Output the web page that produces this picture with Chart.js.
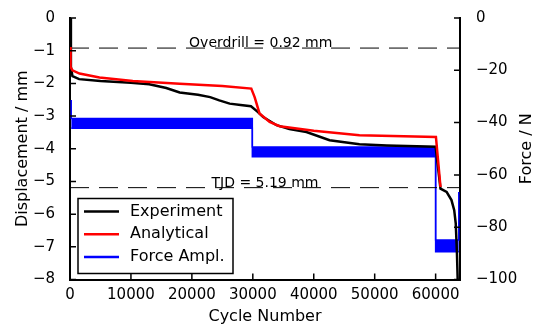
<!DOCTYPE html>
<html>
<head>
<meta charset="utf-8">
<script src="https://cdn.jsdelivr.net/npm/chart.js@4.4.1/dist/chart.umd.min.js"></script>
<style>
  body { margin: 0; background: #fff; }
  #wrap { width: 534px; height: 325px; }
</style>
</head>
<body>
<div id="wrap"><canvas id="mainChart" width="534" height="325"></canvas></div>
<script>
// values: cycle number vs displacement (mm)
const expCycles = [0, 150, 400, 1500, 5000, 10000, 13000, 15800, 18000, 21000, 23000, 24500, 26200, 28000, 29700, 30800, 31700, 33900, 36000, 38800, 42600, 47500, 52000, 60000, 60800, 61800, 62600, 63050, 63300, 63500, 63620];
const expDisp = [0, -1.5, -1.78, -1.87, -1.93, -1.98, -2.03, -2.14, -2.28, -2.35, -2.42, -2.52, -2.62, -2.66, -2.70, -2.87, -3.03, -3.28, -3.40, -3.49, -3.74, -3.86, -3.90, -3.94, -5.22, -5.32, -5.57, -5.88, -6.28, -7.2, -8.0];

const anaCycles = [0, 100, 400, 1560, 4840, 10300, 18000, 25000, 29750, 30300, 31100, 32760, 34400, 40000, 47500, 60050, 60800];
const anaDisp = [-0.89, -1.5, -1.6, -1.70, -1.82, -1.93, -2.01, -2.08, -2.16, -2.42, -2.92, -3.18, -3.31, -3.45, -3.59, -3.64, -5.17];

// force amplitude (N): upper and lower edge of the noisy trace
const forceCycles = [200, 200, 29920, 29920, 60000, 60000, 63800, 63800];
const forceUpper = [-31.4, -38.4, -38.4, -49.3, -49.3, -84.9, -84.9, -66.5];
const forceLower = [-42.2, -42.2, -42.2, -53.1, -53.1, -89.4, -89.4, -89.4];

const overdrill = -0.92;
const tjd = -5.19;

const xTicks = [0, 10000, 20000, 30000, 40000, 50000, 60000];
const dispTicks = [-8, -7, -6, -5, -4, -3, -2, -1, 0];
const forceTicks = [-100, -80, -60, -40, -20, 0];

const FONT = 'DejaVu Sans';

function pts(xs, ys) {
    return xs.map((x, i) => ({ x: x, y: ys[i] }));
}

function fmt(v) {
    return v < 0 ? '\u2212' + Math.abs(v) : String(v);
}

function setTicks(values) {
    return function (scale) {
        scale.ticks = values.map(v => ({ value: v }));
    };
}

const decor = {
    id: 'decor',
    afterDraw(chart) {
        const ctx = chart.ctx;
        const ca = chart.chartArea;
        const sx = chart.scales.x, sy = chart.scales.y, sf = chart.scales.y2;
        ctx.save();

        // inward tick marks
        ctx.strokeStyle = '#000';
        ctx.lineWidth = 1.5;
        ctx.beginPath();
        xTicks.forEach(v => {
            const p = sx.getPixelForValue(v);
            ctx.moveTo(p, ca.bottom);
            ctx.lineTo(p, ca.bottom - 6);
        });
        dispTicks.forEach(v => {
            const p = sy.getPixelForValue(v);
            ctx.moveTo(ca.left, p);
            ctx.lineTo(ca.left + 6, p);
        });
        forceTicks.forEach(v => {
            const p = sf.getPixelForValue(v);
            ctx.moveTo(ca.right, p);
            ctx.lineTo(ca.right - 6, p);
        });
        ctx.stroke();

        // annotations over the dashed lines
        ctx.fillStyle = '#000';
        ctx.font = '14px ' + FONT;
        ctx.textAlign = 'center';
        ctx.textBaseline = 'alphabetic';
        ctx.fillText('Overdrill = 0.92 mm', sx.getPixelForValue(31300), sy.getPixelForValue(overdrill) - 1.5);
        ctx.fillText('TJD = 5.19 mm', sx.getPixelForValue(32000), sy.getPixelForValue(tjd) - 1);

        // axis titles
        ctx.font = '16px ' + FONT;
        ctx.textBaseline = 'middle';
        const midY = (ca.top + ca.bottom) / 2;
        ctx.fillText('Cycle Number', (ca.left + ca.right) / 2, 317);
        ctx.save();
        ctx.translate(23, midY);
        ctx.rotate(-Math.PI / 2);
        ctx.fillText('Displacement / mm', 0, 0);
        ctx.restore();
        ctx.save();
        ctx.translate(527, midY);
        ctx.rotate(-Math.PI / 2);
        ctx.fillText('Force / N', 0, 0);
        ctx.restore();

        // legend box
        const bx = ca.left + 8, by = ca.bottom - 81, bw = 155, bh = 75;
        ctx.fillStyle = '#fff';
        ctx.fillRect(bx, by, bw, bh);
        ctx.strokeStyle = '#000';
        ctx.lineWidth = 1.5;
        ctx.strokeRect(bx, by, bw, bh);
        const items = chart.data.datasets.filter(d => d.inLegend);
        ctx.textAlign = 'left';
        items.forEach((d, i) => {
            const y = by + 13 + i * 22.8;
            ctx.strokeStyle = d.borderColor;
            ctx.lineWidth = 2.5;
            ctx.beginPath();
            ctx.moveTo(bx + 6, y);
            ctx.lineTo(bx + 41, y);
            ctx.stroke();
            ctx.fillStyle = '#000';
            ctx.fillText(d.label, bx + 52, y);
        });
        ctx.restore();
    }
};

new Chart(document.getElementById('mainChart'), {
    type: 'line',
    data: {
        datasets: [
            {
                label: 'Experiment',
                inLegend: true,
                data: pts(expCycles, expDisp),
                borderColor: '#000',
                borderWidth: 2.5,
                yAxisID: 'y',
                order: 2
            },
            {
                label: 'Analytical',
                inLegend: true,
                data: pts(anaCycles, anaDisp),
                borderColor: '#ff0000',
                borderWidth: 2.5,
                yAxisID: 'y',
                order: 1
            },
            {
                label: 'Force Ampl.',
                inLegend: true,
                data: pts(forceCycles, forceLower),
                borderColor: '#0000ff',
                borderWidth: 1.5,
                yAxisID: 'y2',
                order: 4
            },
            {
                label: 'Force upper',
                data: pts(forceCycles, forceUpper),
                borderColor: '#0000ff',
                backgroundColor: '#0000ff',
                borderWidth: 1.5,
                fill: '-1',
                yAxisID: 'y2',
                order: 4
            },
            {
                label: 'Overdrill',
                data: pts([0, 64000], [overdrill, overdrill]),
                borderColor: '#000',
                borderWidth: 1,
                borderDash: [19, 10],
                yAxisID: 'y',
                order: 3
            },
            {
                label: 'TJD',
                data: pts([0, 64000], [tjd, tjd]),
                borderColor: '#000',
                borderWidth: 1,
                borderDash: [19, 10],
                yAxisID: 'y',
                order: 3
            }
        ]
    },
    options: {
        responsive: false,
        animation: false,
        parsing: false,
        elements: {
            point: { radius: 0 },
            line: { tension: 0, fill: false }
        },
        layout: { padding: { top: 18, left: 0, right: 0, bottom: 0 } },
        plugins: {
            legend: { display: false },
            tooltip: { enabled: false }
        },
        scales: {
            x: {
                type: 'linear',
                position: 'bottom',
                min: 0,
                max: 64000,
                afterBuildTicks: setTicks(xTicks),
                afterFit: s => { s.height = 45.5; },
                grid: { display: false },
                border: { display: true, color: '#000', width: 2 },
                ticks: {
                    color: '#000',
                    font: { family: FONT, size: 15 },
                    padding: -1,
                    maxRotation: 0,
                    autoSkip: false,
                    callback: v => fmt(v)
                }
            },
            y: {
                type: 'linear',
                position: 'left',
                min: -8,
                max: 0,
                afterBuildTicks: setTicks(dispTicks),
                afterFit: s => { s.width = 70; },
                grid: { display: false },
                border: { display: true, color: '#000', width: 2 },
                ticks: {
                    color: '#000',
                    font: { family: FONT, size: 15 },
                    padding: 7,
                    callback: v => fmt(v)
                }
            },
            y2: {
                type: 'linear',
                position: 'right',
                min: -100,
                max: 0,
                afterBuildTicks: setTicks(forceTicks),
                afterFit: s => { s.width = 74; },
                grid: { display: false },
                border: { display: true, color: '#000', width: 2 },
                ticks: {
                    color: '#000',
                    font: { family: FONT, size: 15 },
                    padding: 8,
                    callback: v => fmt(v)
                }
            }
        }
    },
    plugins: [decor]
});
</script>
</body>
</html>
